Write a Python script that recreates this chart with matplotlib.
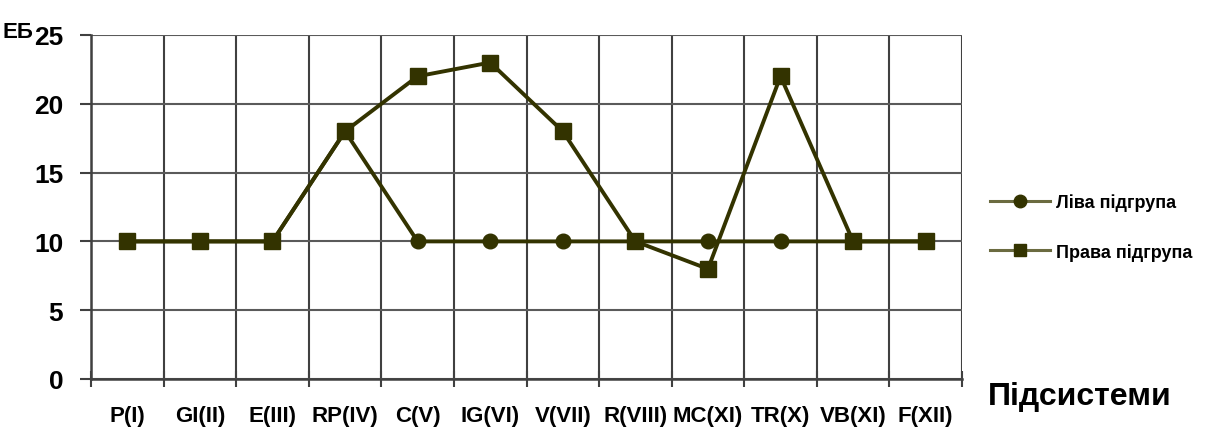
import matplotlib
matplotlib.use("Agg")
import matplotlib.pyplot as plt
import numpy as np
from matplotlib.ticker import FixedLocator, NullFormatter

categories = ["P(I)", "GI(II)", "E(III)", "RP(IV)", "C(V)", "IG(VI)", "V(VII)",
              "R(VIII)", "MC(XI)", "TR(X)", "VB(XI)", "F(XII)"]
left_group = [10, 10, 10, 18, 10, 10, 10, 10, 10, 10, 10, 10]
right_group = [10, 10, 10, 18, 22, 23, 18, 10, 8, 22, 10, 10]
y_ticks = [0, 5, 10, 15, 20, 25]

plt.rcParams["font.family"] = ["Liberation Sans", "DejaVu Sans"]
plt.rcParams["font.weight"] = "bold"

LINE = "#333300"
GRID = "#404040"

fig = plt.figure(figsize=(12.24, 4.35), dpi=100)
ax = fig.add_axes([91 / 1224, 55 / 435, 871 / 1224, 344 / 435])

x = np.arange(len(categories))
ax.plot(x, left_group, color=LINE, lw=2.8, marker="o", ms=10.5,
        mfc=LINE, mec=LINE, label="Ліва підгрупа", zorder=3)
ax.plot(x, right_group, color=LINE, lw=2.8, marker="s", ms=12,
        mfc=LINE, mec=LINE, label="Права підгрупа", zorder=4)

ax.set_xlim(-0.5, len(categories) - 0.5)
ax.set_ylim(0, 25)

ax.set_xticks(x)
ax.set_xticklabels(categories, fontsize=16, fontweight="bold")
ax.xaxis.set_minor_locator(FixedLocator(np.arange(-0.5, len(categories), 1.0)))
ax.xaxis.set_minor_formatter(NullFormatter())
ax.tick_params(axis="x", which="major", length=0, pad=19)
ax.tick_params(axis="x", which="minor", direction="inout", length=12,
               width=1.5, color=GRID)
ax.grid(True, axis="x", which="minor", color=GRID, lw=1.5)

ax.set_yticks(y_ticks)
ax.set_yticklabels([str(v) for v in y_ticks], fontsize=19, fontweight="bold")
ax.tick_params(axis="y", which="major", direction="out", length=8,
               width=1.5, color=GRID, pad=12)
ax.grid(True, axis="y", which="major", color="#5a5a5a", lw=1.5)
ax.set_axisbelow(True)

for side in ["top", "right"]:
    ax.spines[side].set_visible(False)
ax.spines["left"].set_color(GRID)
ax.spines["left"].set_linewidth(1.8)
ax.spines["bottom"].set_color(GRID)
ax.spines["bottom"].set_linewidth(1.8)

fig.text(3 / 1224, 1 - 32 / 435, "ЕБ", fontsize=16, fontweight="bold",
         ha="left", va="center")
fig.text(988 / 1224, 1 - 397 / 435, "Підсистеми", fontsize=23, fontweight="bold",
         ha="left", va="center")

leg = fig.legend(loc="center left", bbox_to_anchor=(974 / 1224, 1 - 228 / 435),
                 frameon=False, fontsize=13, handlelength=3.3,
                 labelspacing=1.75, handletextpad=0.35)
for h in leg.legend_handles:
    h.set_color("#6b6b40")
    h.set_markerfacecolor(LINE)
    h.set_markeredgecolor(LINE)
    h.set_linewidth(2.2)
    h.set_markersize(9)
for t in leg.get_texts():
    t.set_fontweight("bold")

fig.savefig("out.png", dpi=100)
